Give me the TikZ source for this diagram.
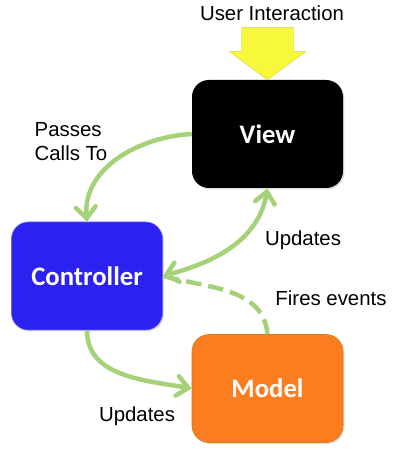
\documentclass[tikz,border=0pt]{standalone}
\usepackage{fontspec}
\setmainfont{Liberation Sans}
\newfontfamily\boxfont{Carlito}
\usetikzlibrary{arrows.meta, positioning, calc, shadows}
\definecolor{mvcgreen}{RGB}{165,210,120}
\definecolor{mvcblue}{RGB}{43,34,240}
\definecolor{mvcorange}{RGB}{251,125,32}
\definecolor{mvcyellow}{RGB}{248,248,58}

\begin{document}
\begin{tikzpicture}[x=0.025cm, y=0.025cm,
    part/.style={rounded corners=12, minimum width=151*0.025cm, minimum height=108*0.025cm,
                 text=white, font=\boxfont\bfseries\fontsize{19}{22}\selectfont,
                 drop shadow={shadow xshift=1pt, shadow yshift=-1pt, opacity=0.25}},
    lbl/.style={font=\fontsize{14.5}{17}\selectfont, inner sep=1pt},
    link/.style={mvcgreen, line width=3.2pt, -{Straight Barb[length=8pt, width=14pt, line cap=round]}}
]
    \useasboundingbox (0,0) rectangle (400,451);

    \node[part, fill=black] (view) at (267.5,317) {View};
    \node[part, fill=mvcblue, draw=mvcblue!70!white, thin] (controller) at (87,175) {Controller};
    \node[part, fill=mvcorange, draw=mvcorange!70!olive, thin] (model) at (267.5,62.5) {Model};

    \node[lbl] (user) at (272,438) {User Interaction};
    \node[lbl, align=left, anchor=west] (passes) at (33,309) {Passes\\Calls To};
    \node[lbl] (upview) at (303,211) {Updates};
    \node[lbl] (fires) at (331,153) {Fires events};
    \node[lbl] (upmodel) at (137,35) {Updates};

    % user input arrow
    \fill[mvcyellow, draw=mvcyellow!85!black, line width=0.3pt]
        (view.north) -- ++(-38,28) -- ++(12,0) -- ++(0,24) -- ++(52,0)
        -- ++(0,-24) -- ++(12,0) -- cycle;

    \draw[link] (view.west) to[out=183, in=95] (controller.north);
    \draw[link, {Straight Barb[length=8pt, width=14pt, line cap=round]}-{Straight Barb[length=8pt, width=14pt, line cap=round]}]
        (controller.east) to[out=15, in=260] (view.south);
    \draw[link, dashed, dash pattern=on 11pt off 5pt, -] (model.north) to[out=95, in=-15] (controller.east);
    \draw[link] (controller.south) to[out=270, in=170] (model.west);
\end{tikzpicture}
\end{document}
